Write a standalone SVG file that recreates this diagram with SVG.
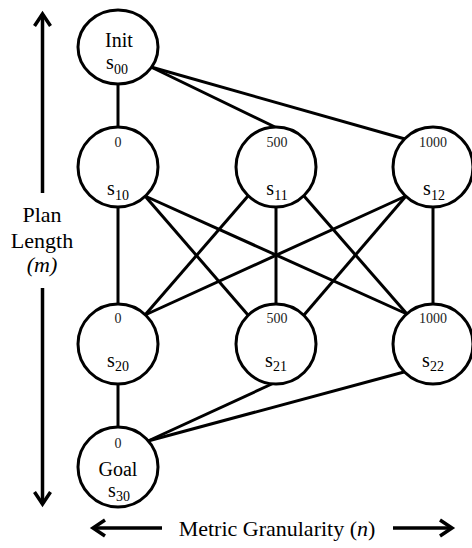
<svg xmlns="http://www.w3.org/2000/svg" width="472" height="548" viewBox="0 0 472 548">
<style>
.edge{stroke:#000;stroke-width:3;fill:none;stroke-linecap:butt}
.node{fill:#fff;stroke:#000;stroke-width:3}
.t{font-family:"Liberation Serif","Times New Roman",serif;fill:#000}
.lbl{font-size:20px;text-anchor:middle}
.num{font-size:14px;text-anchor:middle;fill:#222}
.sub{font-size:14px}
.ax{font-size:22px}
.arr{stroke:#000;stroke-width:3.5;fill:none}
</style>
<defs>
<marker id="ah" viewBox="-16 -10 20 20" refX="0" refY="0" markerWidth="20" markerHeight="20" markerUnits="userSpaceOnUse" orient="auto" overflow="visible">
<path d="M-12,-8 L0,0 L-12,8" fill="none" stroke="#000" stroke-width="3.5" stroke-linejoin="miter"/>
</marker>
</defs>
<rect width="472" height="548" fill="#fff"/>
<g id="connectors">
<line class="edge" x1="118" y1="80" x2="118" y2="128"/>
<line class="edge" x1="151" y1="67" x2="275" y2="127"/>
<line class="edge" x1="151" y1="67" x2="405" y2="139"/>
<line class="edge" x1="118" y1="206" x2="118" y2="305"/>
<line class="edge" x1="145" y1="196" x2="248" y2="315"/>
<line class="edge" x1="145" y1="196" x2="407" y2="314"/>
<line class="edge" x1="248" y1="196" x2="145" y2="315"/>
<line class="edge" x1="276" y1="206" x2="276" y2="305"/>
<line class="edge" x1="304" y1="196" x2="407" y2="314"/>
<line class="edge" x1="406" y1="196" x2="145" y2="315"/>
<line class="edge" x1="406" y1="196" x2="304" y2="315"/>
<line class="edge" x1="433" y1="206" x2="433" y2="305"/>
<line class="edge" x1="118" y1="383" x2="118" y2="428"/>
<line class="edge" x1="274" y1="383" x2="148" y2="441"/>
<line class="edge" x1="404" y1="372" x2="148" y2="441"/>
</g>
<g id="axes">
<line class="arr" x1="42.5" y1="193" x2="42.5" y2="14" marker-end="url(#ah)"/>
<line class="arr" x1="42.5" y1="288" x2="42.5" y2="504" marker-end="url(#ah)"/>
<line class="arr" x1="162" y1="528" x2="93" y2="528" marker-end="url(#ah)"/>
<line class="arr" x1="393" y1="528" x2="452" y2="528" marker-end="url(#ah)"/>
<text class="t ax" x="42" y="222" text-anchor="middle">Plan</text>
<text class="t ax" x="42" y="248" text-anchor="middle">Length</text>
<text class="t ax" x="42" y="272" text-anchor="middle"><tspan font-style="italic">(m)</tspan></text>
<text class="t ax" x="277" y="536" text-anchor="middle">Metric Granularity (<tspan font-style="italic">n</tspan>)</text>
</g>
<g id="s00">
<ellipse class="node" cx="118" cy="47" rx="40" ry="37"/>
<text class="t lbl" x="119" y="47">Init</text>
<text class="t lbl" x="117" y="69">s<tspan class="sub" dy="5">00</tspan></text>
</g>
<g id="s10">
<circle class="node" cx="118" cy="167" r="40"/>
<text class="t num" x="118" y="147">0</text>
<text class="t lbl" x="118" y="195">s<tspan class="sub" dy="5">10</tspan></text>
</g>
<g id="s11">
<circle class="node" cx="276" cy="167" r="40"/>
<text class="t num" x="277" y="147">500</text>
<text class="t lbl" x="277" y="195">s<tspan class="sub" dy="5">11</tspan></text>
</g>
<g id="s12">
<circle class="node" cx="433" cy="167" r="40"/>
<text class="t num" x="433" y="147">1000</text>
<text class="t lbl" x="434" y="195">s<tspan class="sub" dy="5">12</tspan></text>
</g>
<g id="s20">
<circle class="node" cx="118" cy="344" r="40"/>
<text class="t num" x="118" y="323">0</text>
<text class="t lbl" x="118" y="367">s<tspan class="sub" dy="4">20</tspan></text>
</g>
<g id="s21">
<circle class="node" cx="276" cy="344" r="40"/>
<text class="t num" x="277" y="323">500</text>
<text class="t lbl" x="276" y="367">s<tspan class="sub" dy="4">21</tspan></text>
</g>
<g id="s22">
<circle class="node" cx="433" cy="344" r="40"/>
<text class="t num" x="433" y="323">1000</text>
<text class="t lbl" x="433" y="367">s<tspan class="sub" dy="4">22</tspan></text>
</g>
<g id="s30">
<circle class="node" cx="118" cy="467" r="40"/>
<text class="t num" x="118" y="448">0</text>
<text class="t lbl" x="118" y="476">Goal</text>
<text class="t lbl" x="119" y="497">s<tspan class="sub" dy="4">30</tspan></text>
</g>
</svg>
